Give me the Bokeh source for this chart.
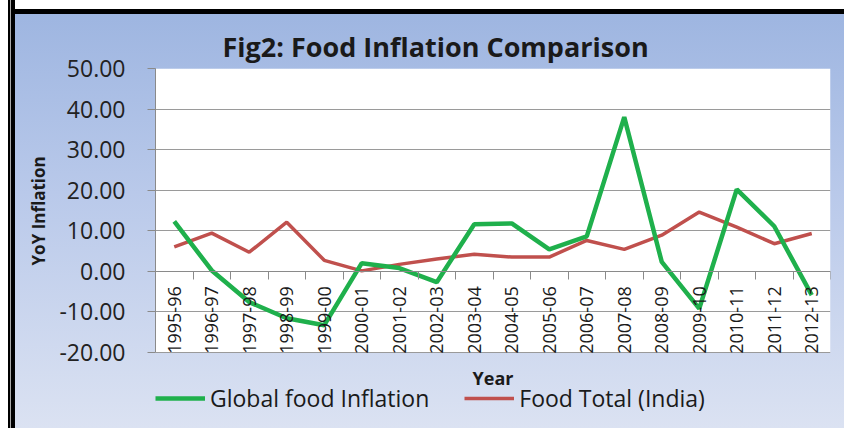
from bokeh.plotting import figure
from bokeh.models import (Range1d, FixedTicker, LinearAxis, NumeralTickFormatter,
                          Title, Legend, LegendItem, Label)
from bokeh.embed import file_html
from bokeh.resources import INLINE

years = ["1995-96", "1996-97", "1997-98", "1998-99", "1999-00", "2000-01",
         "2001-02", "2002-03", "2003-04", "2004-05", "2005-06", "2006-07",
         "2007-08", "2008-09", "2009-10", "2010-11", "2011-12", "2012-13"]
global_food = [12.3, 0.2, -7.6, -11.6, -13.3, 2.0, 0.8, -2.7, 11.6, 11.8,
               5.4, 8.6, 38.0, 2.3, -9.2, 20.2, 11.1, -5.9]
food_india = [6.0, 9.4, 4.7, 12.1, 2.7, 0.1, 1.7, 3.0, 4.2, 3.5,
              3.5, 7.6, 5.4, 8.9, 14.6, 10.9, 6.8, 9.3]
y_ticks = [-20, -10, 0, 10, 20, 30, 40, 50]

FONT = "Open Sans"
xs = list(range(len(years)))
x_lo, x_hi = -0.5, len(years) - 0.5
y_lo, y_hi = y_ticks[0], y_ticks[-1]

# frame extends below the plot area to host the axis title and legend
p = figure(width=844, height=428,
           x_range=Range1d(x_lo, x_hi), y_range=Range1d(-36.8, y_hi),
           output_backend="svg", toolbar_location=None, x_axis_type=None,
           min_border_left=155, min_border_right=14, min_border_top=68,
           min_border_bottom=8, border_fill_color=None,
           background_fill_color=None, outline_line_color=None)

p.styles = {"background":
            "linear-gradient(to right, #fff 0px, #fff 8px, #000 8px, #000 10px, #aaa 10px, #aaa 11px, #000 11px, #000 15px, transparent 15px),"
            "linear-gradient(to bottom, #fff 0px, #fff 9px, #000 9px, #000 14px, transparent 14px),"
            "linear-gradient(to bottom, #9cb4e0 0%, #b9c9ea 45%, #dbe2f2 100%)"}

p.title = Title(text="Fig2: Food Inflation Comparison", align="left",
                text_font=FONT, text_font_size="27px", text_font_style="bold",
                text_color="#1a1a1a", offset=67, standoff=8)

# white plot area
p.quad(left=[x_lo], right=[x_hi], bottom=[y_lo], top=[y_hi],
       fill_color="white", line_color=None, level="image")

# y axis
yax = p.yaxis[0]
yax.bounds = (y_lo, y_hi)
yax.ticker = FixedTicker(ticks=y_ticks)
yax.formatter = NumeralTickFormatter(format="0.00")
yax.major_label_text_font = FONT
yax.major_label_text_font_size = "23px"
yax.major_label_text_color = "#222222"
yax.major_label_standoff = 22
yax.axis_line_color = "#8a8a8a"
yax.major_tick_line_color = "#8a8a8a"
yax.major_tick_out = 8
yax.major_tick_in = 0
yax.minor_tick_line_color = None

p.add_layout(Title(text="YoY Inflation", align="left", offset=155,
                   text_font=FONT, text_font_size="17px", text_font_style="bold",
                   text_color="#1a1a1a", standoff=14), "left")

p.ygrid.ticker = FixedTicker(ticks=y_ticks)
p.ygrid.grid_line_color = "#9a9a9a"
p.ygrid.grid_line_width = 1

# x axis: ticks between categories
bounds = [i - 0.5 for i in range(len(years) + 1)]
tick_ax = LinearAxis(ticker=FixedTicker(ticks=bounds),
                     major_label_overrides={b: "" for b in bounds},
                     fixed_location=0,
                     axis_line_color="#8a8a8a", major_tick_line_color="#8a8a8a",
                     major_tick_out=8, major_tick_in=0, minor_tick_line_color=None)
p.add_layout(tick_ax, "below")

# x axis: category labels
label_ax = LinearAxis(ticker=FixedTicker(ticks=xs),
                      major_label_overrides={i: y for i, y in enumerate(years)},
                      fixed_location=0, axis_line_color=None,
                      major_tick_line_color=None, minor_tick_line_color=None,
                      major_tick_out=0, major_tick_in=0,
                      major_label_orientation=1.5708,
                      major_label_standoff=15,
                      major_label_text_font=FONT, major_label_text_font_size="18px",
                      major_label_text_color="#1a1a1a")
p.add_layout(label_ax, "below")

p.add_layout(Label(x=(x_lo + x_hi) / 2, y=-26.4, text="Year", text_align="center",
                   text_baseline="middle", text_font=FONT, text_font_size="18px",
                   text_font_style="bold", text_color="#1a1a1a"))

r_india = p.line(xs, food_india, line_color="#c0504d", line_width=3.5)
r_global = p.line(xs, global_food, line_color="#1fb04c", line_width=4.5)

legend = Legend(items=[LegendItem(label="Global food Inflation", renderers=[r_global]),
                       LegendItem(label="Food Total (India)", renderers=[r_india])],
                orientation="horizontal", location=(0, 6),
                label_text_font=FONT, label_text_font_size="23px",
                label_text_color="#1a1a1a", glyph_width=50, glyph_height=20,
                label_standoff=5, spacing=35, padding=0, margin=0,
                background_fill_alpha=0, border_line_color=None)
p.add_layout(legend, "center")

open("out.html", "w").write(file_html(p, INLINE))
